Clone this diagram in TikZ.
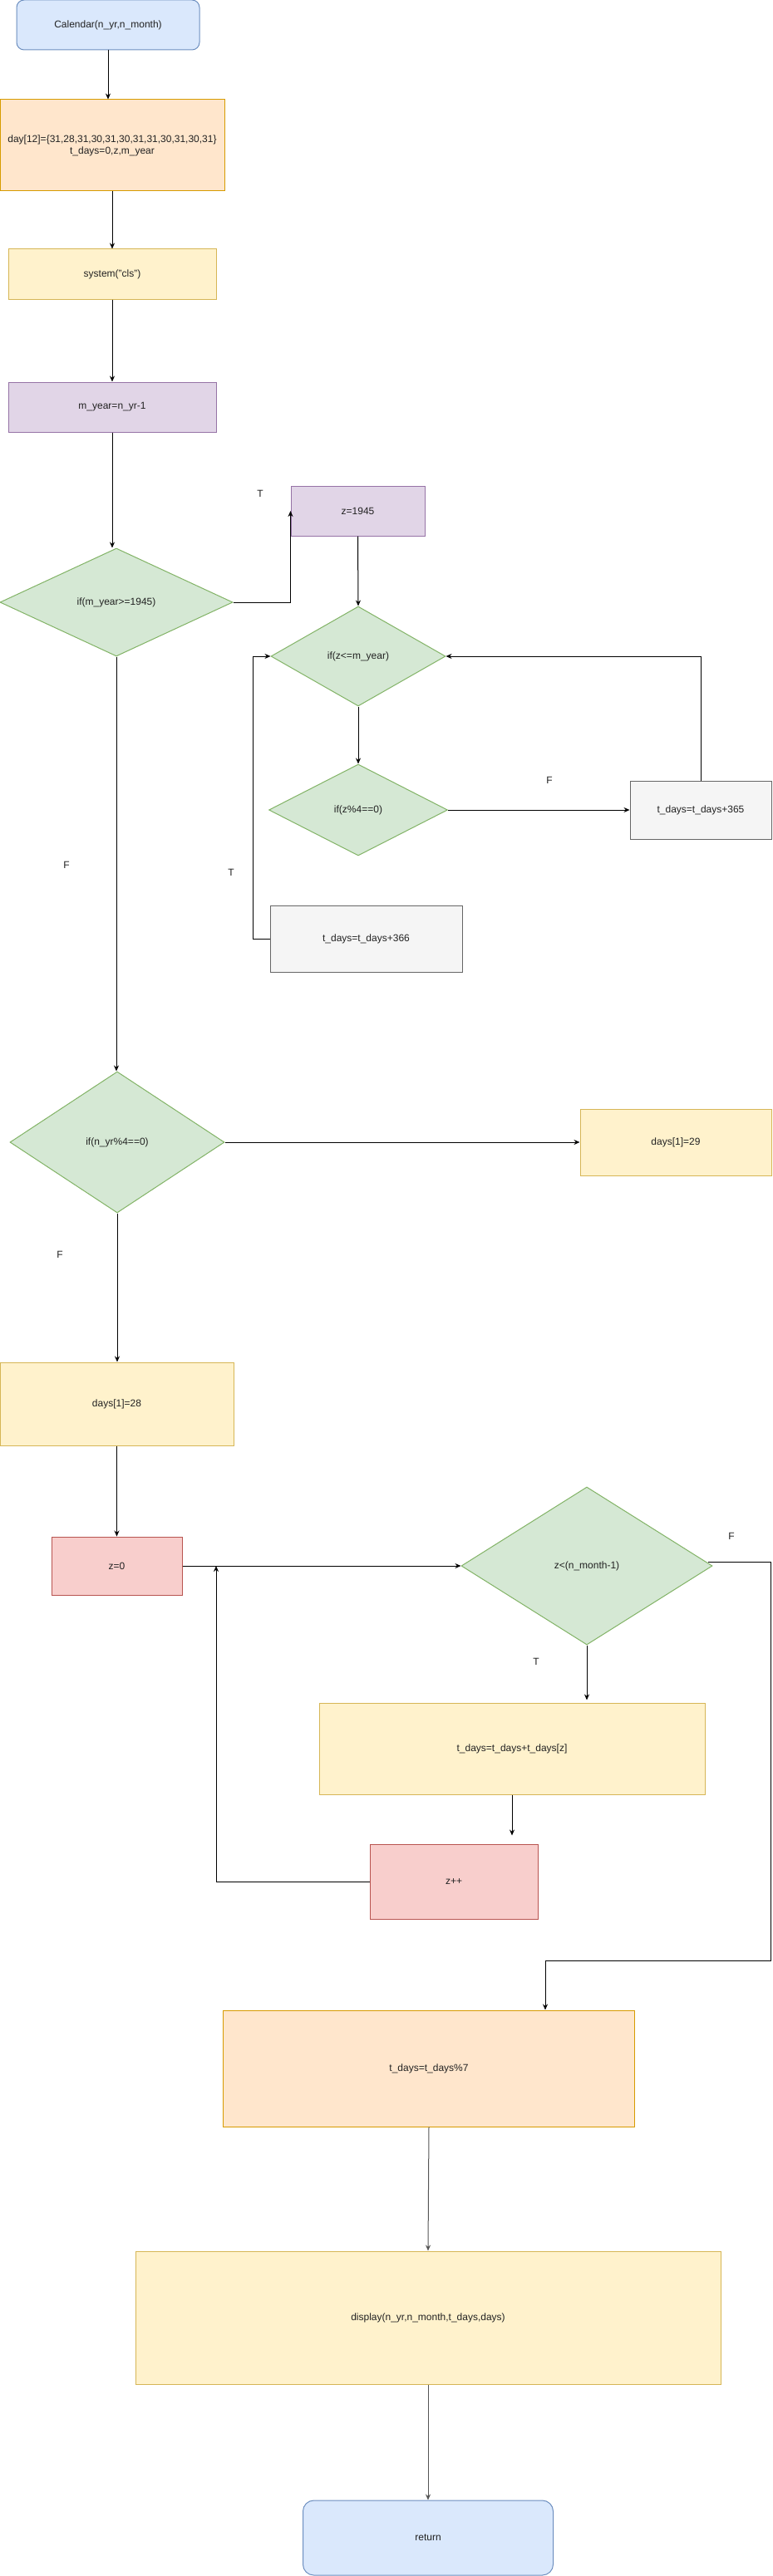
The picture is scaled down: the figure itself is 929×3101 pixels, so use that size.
\documentclass[tikz,border=0pt]{standalone}
\usepackage{fontspec}
\setmainfont{Liberation Sans}
\usetikzlibrary{shapes.geometric,arrows.meta,calc}
\definecolor{bfill}{HTML}{DAE8FC}\definecolor{bdraw}{HTML}{6C8EBF}
\definecolor{ofill}{HTML}{FFE6CC}\definecolor{odraw}{HTML}{D79B00}
\definecolor{yfill}{HTML}{FFF2CC}\definecolor{ydraw}{HTML}{D6B656}
\definecolor{pfill}{HTML}{E1D5E7}\definecolor{pdraw}{HTML}{9673A6}
\definecolor{gfill}{HTML}{D5E8D4}\definecolor{gdraw}{HTML}{82B366}
\definecolor{rfill}{HTML}{F8CECC}\definecolor{rdraw}{HTML}{B85450}
\definecolor{sfill}{HTML}{F5F5F5}\definecolor{sdraw}{HTML}{666666}
\definecolor{txt}{HTML}{222222}
\definecolor{gline}{HTML}{555555}
\begin{document}
\begin{tikzpicture}[x=1pt,y=-1pt,
  font=\fontsize{12}{14}\selectfont,
  pbox/.style={draw, rectangle, inner sep=0pt, align=center, text=txt, line width=1pt},
  cblue/.style={pbox, fill=bfill, draw=bdraw, rounded corners=9pt},
  corange/.style={pbox, fill=ofill, draw=odraw},
  cyel/.style={pbox, fill=yfill, draw=ydraw},
  cpurp/.style={pbox, fill=pfill, draw=pdraw},
  cred/.style={pbox, fill=rfill, draw=rdraw},
  cgray/.style={pbox, fill=sfill, draw=sdraw},
  dia/.style={draw=gdraw, fill=gfill, diamond, inner sep=0pt, text=txt, line width=1pt},
  arr/.style={draw=black, line width=1pt, -{Stealth[length=7pt,width=6pt]}},
  ln/.style={draw=black, line width=1pt},
  lbl/.style={text=txt, inner sep=0pt}
]
\useasboundingbox (0,0) rectangle (929,3101);

% nodes
\node[cblue, minimum width=220pt, minimum height=60pt] (cal) at (130,30) {Calendar(n\_yr,n\_month)};
\node[corange, minimum width=270pt, minimum height=110pt] (decl) at (135,175) {day[12]=\{31,28,31,30,31,30,31,31,30,31,30,31\}\\t\_days=0,z,m\_year};
\node[cyel, minimum width=250pt, minimum height=60pt] (sys) at (135,330) {system("cls")};
\node[cpurp, minimum width=250pt, minimum height=60pt] (my) at (135,490) {m\_year=n\_yr-1};
\node[dia, minimum width=280pt, minimum height=130pt] (d1) at (140,725) {if(m\_year>=1945)};
\node[cpurp, minimum width=161pt, minimum height=60pt] (zb) at (430.5,615) {z=1945};
\node[dia, minimum width=210pt, minimum height=120pt] (dz) at (431,790) {if(z<=m\_year)};
\node[dia, minimum width=215pt, minimum height=110pt] (d4) at (431,975) {if(z\%4==0)};
\node[cgray, minimum width=170pt, minimum height=70pt] (b365) at (843,975) {t\_days=t\_days+365};
\node[cgray, minimum width=231pt, minimum height=80pt] (b366) at (440.5,1130) {t\_days=t\_days+366};
\node[dia, minimum width=258pt, minimum height=170pt] (d2) at (141,1375) {if(n\_yr\%4==0)};
\node[cyel, minimum width=230pt, minimum height=80pt] (b29) at (813,1375) {days[1]=29};
\node[cyel, minimum width=281pt, minimum height=100pt] (b28) at (140.5,1690) {days[1]=28};
\node[cred, minimum width=157pt, minimum height=70pt] (z0) at (140.5,1885) {z=0};
\node[dia, minimum width=302pt, minimum height=190pt] (dm) at (706,1885) {z<(n\_month-1)};
\node[cyel, minimum width=464pt, minimum height=110pt] (tdz) at (616,2105) {t\_days=t\_days+t\_days[z]};
\node[cred, minimum width=202pt, minimum height=90pt] (zpp) at (546,2265) {z++};
\node[corange, minimum width=495pt, minimum height=140pt] (tdm) at (516,2490) {t\_days=t\_days\%7};
\node[cyel, minimum width=704pt, minimum height=160pt] (disp) at (515,2790) {display(n\_yr,n\_month,t\_days,days)};
\node[cblue, rounded corners=13pt, minimum width=301pt, minimum height=90pt] (ret) at (515,3055) {return};

% labels
\node[lbl] (t1) at (313,594) {T};
\node[lbl] (t2) at (278,1050) {T};
\node[lbl] (f1) at (661,939) {F};
\node[lbl] (f2) at (80,1041) {F};
\node[lbl] (f3) at (72,1510) {F};
\node[lbl] (f4) at (880,1849) {F};
\node[lbl] (t3) at (645,2000) {T};

% helper coordinates
\coordinate (j1) at (260,1885);
\coordinate (fs) at ($(dm.east)+(-6,-5)$);
\coordinate (fk) at (927,2360);
\coordinate (ft) at ($(tdm.north)+(140,0)$);

% connectors
\draw[arr] (cal.south) -- (cal.south |- decl.north);
\draw[arr] (decl.south) -- (sys.north);
\draw[arr] (sys.south) -- (my.north);
\draw[arr] (my.south) -- (my.south |- d1.north);
\draw[arr] (d1.east) -| (zb.west);
\draw[arr] (zb.south) -- (dz.north);
\draw[arr] (dz.south) -- (d4.north);
\draw[arr] (d4.east) -- (b365.west);
\draw[arr] (b365.north) |- (dz.east);
\draw[arr] (b366.west) -- ++(-20,0) |- (dz.west);
\draw[arr] (d1.south) -- (d1.south |- d2.north);
\draw[arr] (d2.east) -- (b29.west);
\draw[arr] (d2.south) -- (d2.south |- b28.north);
\draw[arr] (b28.south) -- (z0.north);
\draw[arr] (z0.east) -- (dm.west);
\draw[arr, shorten >=3pt] (dm.south) -- (dm.south |- tdz.north);
\draw[arr, shorten >=10pt] (tdz.south) -- (tdz.south |- zpp.north);
\draw[arr] (zpp.west) -| (j1);
\draw[arr] (fs) -| (fk) -| (ft);
\draw[arr, draw=gline] (tdm.south) -- (disp.north);
\draw[arr, draw=gline] (disp.south) -- (ret.north);
\end{tikzpicture}
\end{document}
